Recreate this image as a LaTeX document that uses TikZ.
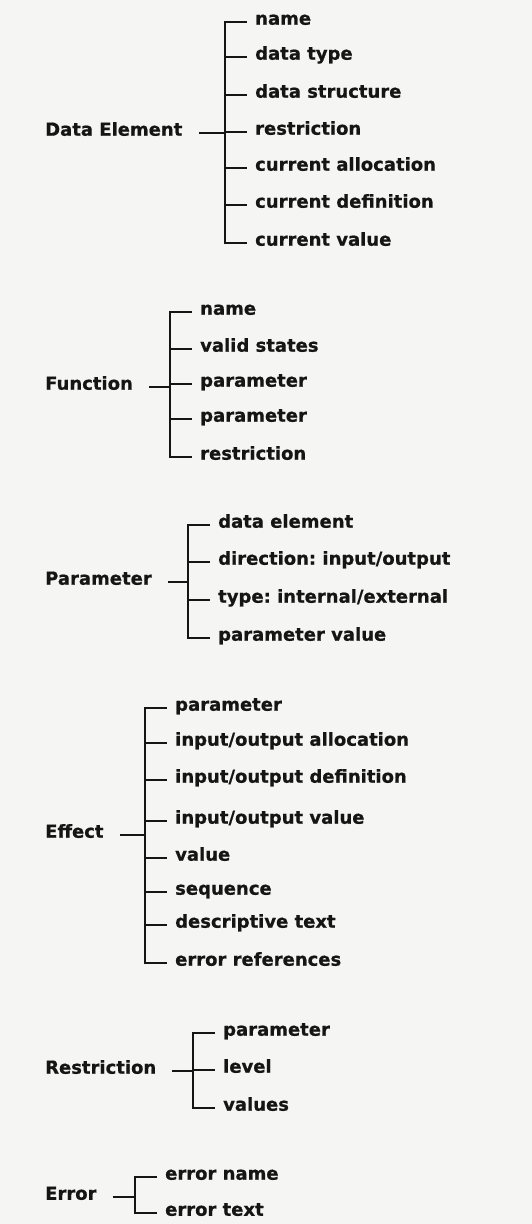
\documentclass[tikz,border=0pt]{standalone}
\usepackage{fontspec}
\setmainfont{DejaVu Sans}
\newfontfamily\heavyfont[FakeBold=0.7]{DejaVu Sans Bold}
\definecolor{ink}{HTML}{151515}
\definecolor{bg}{HTML}{F5F5F3}
\tikzset{
  lab/.style={anchor=mid west, inner sep=0pt, font=\heavyfont\fontsize{18}{20}\selectfont, text=ink},
  itm/.style={lab},
  ln/.style={draw=ink, line width=1.1pt},
}
% #1 id, #2 label, #3 label y, #4 vertical x, #5 list y/text, #6 count
\newcommand\grp[6]{%
  \node[lab] (#1) at (45pt,-#3pt) {#2};
  \coordinate (#1j) at (#4pt,-#3pt);
  \draw[ln] ([xshift=16pt]#1.mid east) -- (#1j);
  \foreach \yy/\txt [count=\k] in {#5} {
    \node[itm] (#1i\k) at (#4pt+30pt,-\yy pt) {\txt};
    \coordinate (#1v\k) at (#4pt,-\yy pt);
    \draw[ln] (#1v\k) -- ([xshift=-8pt]#1i\k.mid west);
  }
  \draw[ln] ([xshift=-8pt]#1i1.mid west) -- (#1v1) -- (#1v#6) -- ([xshift=-8pt]#1i#6.mid west);
}
\begin{document}
\begin{tikzpicture}
\path[fill=bg,use as bounding box] (0,0) rectangle (532pt,-1224pt);
\grp{de}{Data Element}{133}{225}{22/name,57/data type,95/data structure,132/restriction,168/current allocation,205/current definition,243/current value}{7}
\grp{fn}{Function}{387}{170}{312/name,349/valid states,384/parameter,419/parameter,457/restriction}{5}
\grp{pa}{Parameter}{582}{188}{525/data element,562/{direction:\ input/output},600/{type:\ internal/external},638/parameter value}{4}
\grp{ef}{Effect}{835}{145}{708/parameter,743/{input/output allocation},780/{input/output definition},821/{input/output value},858/value,892/sequence,925/descriptive text,963/error references}{8}
\grp{re}{Restriction}{1071}{193}{1033/parameter,1070/level,1108/values}{3}
\grp{er}{Error}{1197}{135}{1177/error name,1213/error text}{2}
\end{tikzpicture}
\end{document}
